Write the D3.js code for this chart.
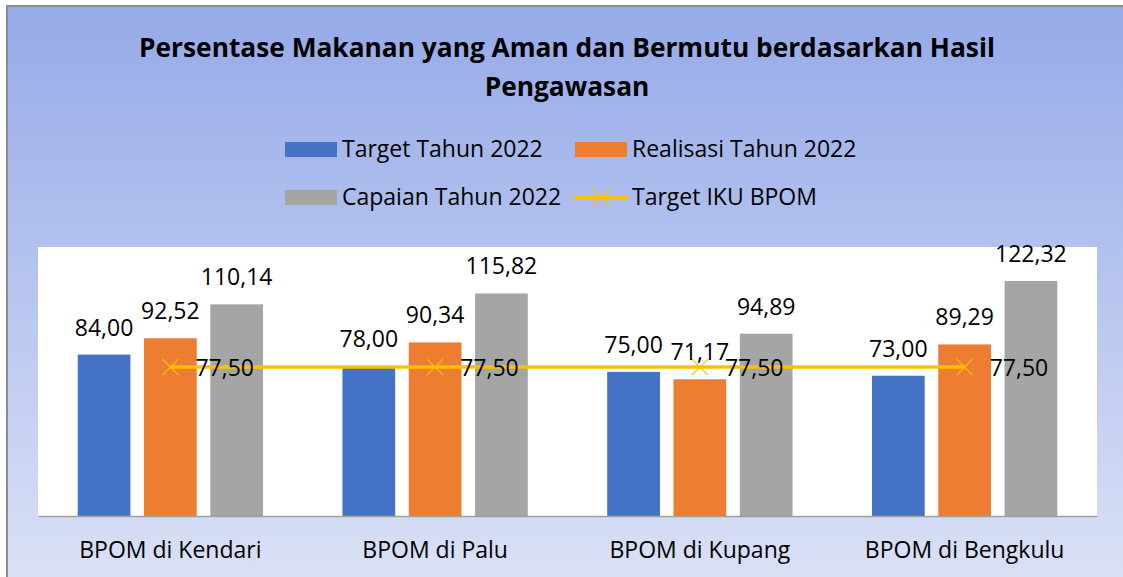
<!DOCTYPE html>
<html><head><meta charset="utf-8">
<script src="https://cdn.jsdelivr.net/npm/d3@7/dist/d3.min.js"></script>
<style>html,body{margin:0;padding:0;background:#fff;overflow:hidden}text{font-family:"Open Sans",sans-serif}</style>
</head><body>
<svg id="c" width="1123" height="577"></svg>
<script>
const categories = ["BPOM di Kendari", "BPOM di Palu", "BPOM di Kupang", "BPOM di Bengkulu"];
const seriesNames = ["Target Tahun 2022", "Realisasi Tahun 2022", "Capaian Tahun 2022"];
const targetTahun = [84.00, 78.00, 75.00, 73.00];
const realisasiTahun = [92.52, 90.34, 71.17, 89.29];
const capaianTahun = [110.14, 115.82, 94.89, 122.32];
const lineName = "Target IKU BPOM";
const targetIKU = [77.50, 77.50, 77.50, 77.50];
const titleLines = ["Persentase Makanan yang Aman dan Bermutu berdasarkan Hasil", "Pengawasan"];

const colors = ["#4472C4", "#ED7D31", "#A5A5A5"];
const lineColor = "#FFC000";
const fmt = v => v.toFixed(2).replace(".", ",");

const svg = d3.select("#c");
const defs = svg.append("defs");
const grad = defs.append("linearGradient").attr("id","bg").attr("x1",0).attr("y1",0).attr("x2",0).attr("y2",1);
grad.append("stop").attr("offset","0%").attr("stop-color","#95AAE8");
grad.append("stop").attr("offset","100%").attr("stop-color","#DCE2F6");

// chart frame
svg.append("rect").attr("x",7).attr("y",6).attr("width",1130).attr("height",590)
  .attr("fill","url(#bg)").attr("stroke","#8C8C8C").attr("stroke-width",2);

// title
svg.append("text").attr("x",567).attr("y",57).attr("text-anchor","middle")
  .attr("font-weight","bold").attr("font-size",26.3).attr("fill","#000").text(titleLines[0]);
svg.append("text").attr("x",567).attr("y",96).attr("text-anchor","middle")
  .attr("font-weight","bold").attr("font-size",26.3).attr("fill","#000").text(titleLines[1]);

// legend
const lg = svg.append("g").attr("font-size",23).attr("fill","#000");
const legendItems = [
  {name: seriesNames[0], type:"bar", color: colors[0], x:285, y:142},
  {name: seriesNames[1], type:"bar", color: colors[1], x:575, y:142},
  {name: seriesNames[2], type:"bar", color: colors[2], x:285, y:190},
  {name: lineName, type:"line", color: lineColor, x:575, y:190}
];
legendItems.forEach(it => {
  if (it.type === "bar") {
    lg.append("rect").attr("x",it.x).attr("y",it.y).attr("width",52).attr("height",15).attr("fill",it.color);
  } else {
    const cy = it.y + 7.5;
    lg.append("line").attr("x1",it.x-1).attr("x2",it.x+53).attr("y1",cy).attr("y2",cy)
      .attr("stroke",it.color).attr("stroke-width",3.5);
    const cx = it.x + 26;
    lg.append("path").attr("d",`M${cx-8},${cy-8}L${cx+8},${cy+8}M${cx-8},${cy+8}L${cx+8},${cy-8}`)
      .attr("stroke",it.color).attr("stroke-width",1.3).attr("fill","none");
  }
  lg.append("text").attr("x",it.x+57).attr("y",it.y+15).text(it.name);
});

// plot area
const plot = {left:38, right:1097, top:247, bottom:516};
svg.append("rect").attr("x",plot.left).attr("y",plot.top)
  .attr("width",plot.right-plot.left).attr("height",plot.bottom-plot.top).attr("fill","#fff");

const x0 = d3.scaleBand().domain(categories).range([plot.left, plot.right]).paddingInner(0.3).paddingOuter(0.15);
const x1 = d3.scaleBand().domain(seriesNames).range([0, x0.bandwidth()]).paddingInner(0.205).paddingOuter(0);
const y = d3.scaleLinear().domain([0, 140]).range([plot.bottom, plot.top]);

const seriesData = [targetTahun, realisasiTahun, capaianTahun];
const barsData = [];
categories.forEach((c,i) => seriesNames.forEach((s,j) => barsData.push({c, s, j, v: seriesData[j][i]})));

svg.append("g").selectAll("rect").data(barsData).join("rect")
  .attr("x", d => x0(d.c) + x1(d.s)).attr("y", d => y(d.v))
  .attr("width", x1.bandwidth()).attr("height", d => y(0) - y(d.v))
  .attr("fill", d => colors[d.j]);

// axis
const axis = svg.append("g").attr("transform",`translate(0,${plot.bottom})`)
  .call(d3.axisBottom(x0).tickSize(0).tickPadding(26));
axis.select(".domain").attr("stroke","#A0A0A0").attr("stroke-width",1.5);
axis.selectAll("text").attr("font-size",23).attr("font-family","'Open Sans',sans-serif").attr("fill","#000");

// line series
const lineX = c => x0(c) + x1(seriesNames[1]) + x1.bandwidth()/2;
const linePts = categories.map((c,i) => ({c, v: targetIKU[i]}));
svg.append("path").datum(linePts)
  .attr("d", d3.line().x(d => lineX(d.c)).y(d => y(d.v)))
  .attr("stroke", lineColor).attr("stroke-width",3.5).attr("fill","none");
svg.append("g").selectAll("path").data(linePts).join("path")
  .attr("d", d => { const cx = lineX(d.c), cy = y(d.v);
    return `M${cx-8},${cy-8}L${cx+8},${cy+8}M${cx-8},${cy+8}L${cx+8},${cy-8}`; })
  .attr("stroke", lineColor).attr("stroke-width",1.3).attr("fill","none");

// data labels
svg.append("g").selectAll("text").data(barsData).join("text")
  .attr("x", d => x0(d.c) + x1(d.s) + x1.bandwidth()/2)
  .attr("y", d => y(d.v) - 19)
  .attr("text-anchor","middle").attr("font-size",23).attr("fill","#000")
  .text(d => fmt(d.v));
svg.append("g").selectAll("text").data(linePts).join("text")
  .attr("x", d => lineX(d.c) + 25).attr("y", d => y(d.v) + 8.5)
  .attr("font-size",23).attr("fill","#000")
  .text(d => fmt(d.v));
</script>
</body></html>
